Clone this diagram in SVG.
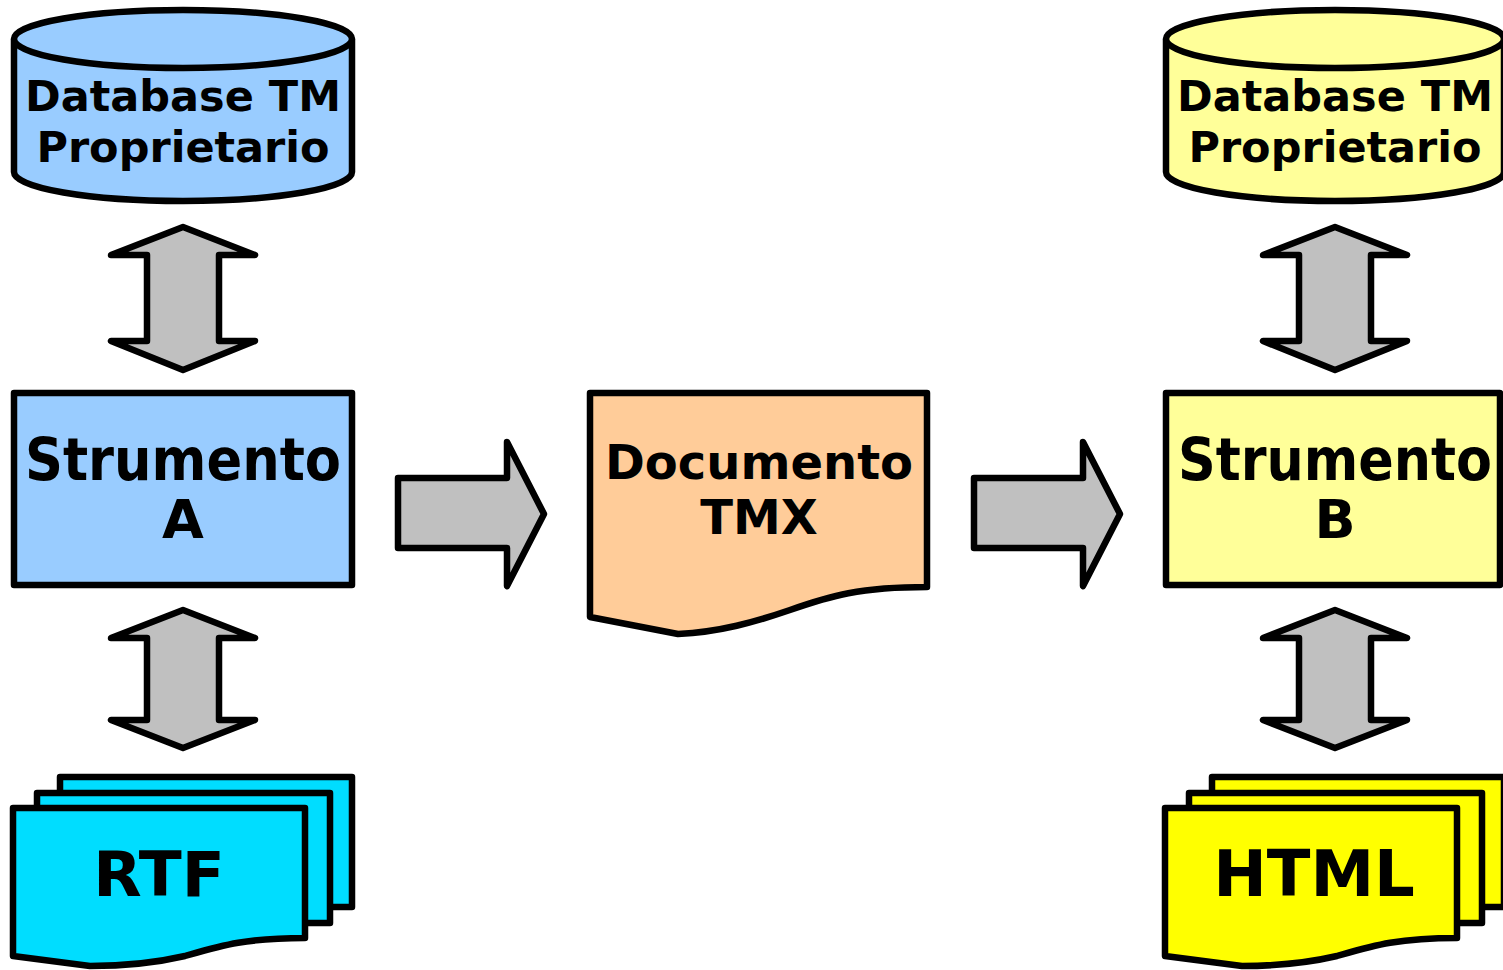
<svg xmlns="http://www.w3.org/2000/svg" width="1503" height="970" viewBox="0 0 1503 970">
<style>
.s{stroke:#000;stroke-width:6.5;stroke-linejoin:round;stroke-linecap:round}
.arrow{fill:#c0c0c0}
.t{font-family:"DejaVu Sans","Liberation Sans",sans-serif;font-weight:bold;fill:#000;text-anchor:middle}
</style>
<rect width="1503" height="970" fill="#fff"/>
<g id="db-a">
<path class="s" fill="#99ccff" d="M14,40 V172 A169,29 0 0 0 352,172 V40 Z"/>
<ellipse class="s" fill="#99ccff" cx="183" cy="39" rx="169" ry="29"/>
<text class="t" x="183" y="111" font-size="43">Database TM</text>
<text class="t" x="183" y="162" font-size="43">Proprietario</text>
</g>
<g id="db-b">
<path class="s" fill="#ffff99" d="M1166,40 V172 A169,29 0 0 0 1504,172 V40 Z"/>
<ellipse class="s" fill="#ffff99" cx="1335" cy="39" rx="169" ry="29"/>
<text class="t" x="1335" y="111" font-size="43">Database TM</text>
<text class="t" x="1335" y="162" font-size="43">Proprietario</text>
</g>
<g id="tool-a">
<rect class="s" fill="#99ccff" x="14" y="393" width="338" height="192"/>
<text class="t" x="183" y="480" font-size="58" textLength="316" lengthAdjust="spacingAndGlyphs">Strumento</text>
<text class="t" x="183" y="538" font-size="54">A</text>
</g>
<g id="tool-b">
<rect class="s" fill="#ffff99" x="1166" y="393" width="334" height="192"/>
<text class="t" x="1335" y="480" font-size="58" textLength="314" lengthAdjust="spacingAndGlyphs">Strumento</text>
<text class="t" x="1335" y="538" font-size="54">B</text>
</g>
<g id="tmx">
<path class="s" fill="#ffcc99" d="M590,393 H927 V587 C860,587 830,596 790,610 C755,622 720,632 678,634 L590,617 Z"/>
<text class="t" x="759" y="479" font-size="48">Documento</text>
<text class="t" x="759" y="534" font-size="48">TMX</text>
</g>
<g id="rtf">
<rect class="s" fill="#00ddff" x="60" y="777" width="292" height="130"/>
<rect class="s" fill="#00ddff" x="37" y="793" width="293" height="130"/>
<path class="s" fill="#00ddff" d="M13,808 H305 V938 C245,938 220,946 185,956 C155,963 125,966 90,966 L13,956 Z"/>
<text class="t" x="159" y="896" font-size="63">RTF</text>
</g>
<g id="html">
<rect class="s" fill="#ffff00" x="1212" y="777" width="292" height="130"/>
<rect class="s" fill="#ffff00" x="1189" y="793" width="293" height="130"/>
<path class="s" fill="#ffff00" d="M1165,808 H1457 V938 C1397,938 1372,946 1337,956 C1307,963 1277,966 1242,966 L1165,956 Z"/>
<text class="t" x="1314" y="896" font-size="64">HTML</text>
</g>
<g id="connectors">
<polygon class="s arrow" points="183,227 255,255 219,255 219,341 255,341 183,370 111,341 147,341 147,255 111,255"/>
<polygon class="s arrow" points="183,610 255,638 219,638 219,720 255,720 183,748 111,720 147,720 147,638 111,638"/>
<polygon class="s arrow" points="1335,227 1407,255 1371,255 1371,341 1407,341 1335,370 1263,341 1299,341 1299,255 1263,255"/>
<polygon class="s arrow" points="1335,610 1407,638 1371,638 1371,720 1407,720 1335,748 1263,720 1299,720 1299,638 1263,638"/>
<polygon class="s arrow" points="398,478 507,478 507,442 544,514 507,586 507,548 398,548"/>
<polygon class="s arrow" points="974,478 1083,478 1083,442 1120,514 1083,586 1083,548 974,548"/>
</g>
</svg>
